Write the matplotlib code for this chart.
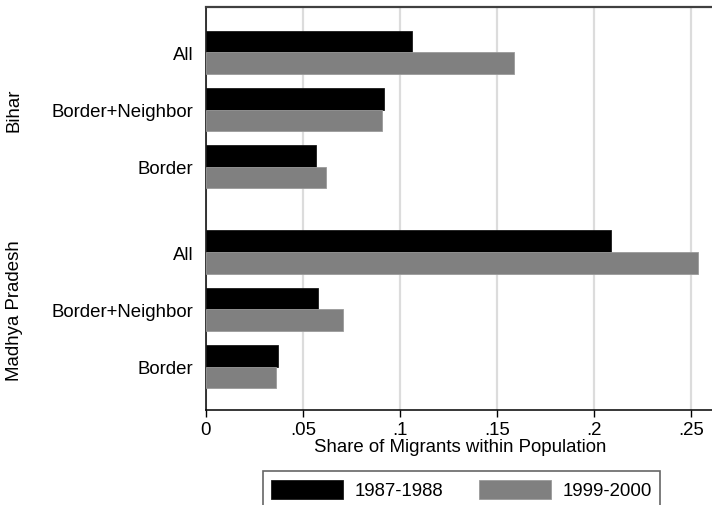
import matplotlib
matplotlib.use("Agg")
import matplotlib.pyplot as plt
import numpy as np

plt.rcParams['font.family'] = ['Liberation Sans', 'DejaVu Sans']

states = ["Bihar", "Madhya Pradesh"]
regions = ["All", "Border+Neighbor", "Border"]
share_8788 = {"Bihar": [0.1064, 0.0920, 0.0568],
              "Madhya Pradesh": [0.2085, 0.0577, 0.0371]}
share_9900 = {"Bihar": [0.1588, 0.0906, 0.0618],
              "Madhya Pradesh": [0.2535, 0.0707, 0.0362]}
series_labels = ["1987-1988", "1999-2000"]
xticks = [0, 0.05, 0.10, 0.15, 0.20, 0.25]
xticklabels = ["0", ".05", ".1", ".15", ".2", ".25"]

W, H = 712, 506
ax_left, ax_right, ax_top, ax_bottom = 205.7, 720, 7.5, 411

fig = plt.figure(figsize=(W / 100, H / 100), dpi=100)
ax = fig.add_axes([ax_left / W, 1 - ax_bottom / H,
                   (ax_right - ax_left) / W, (ax_bottom - ax_top) / H])

bar_h = 0.378
first = 0.8
group_step = 3.49
fs = 13.4

centers = []
labels = []
for g, st in enumerate(states):
    for i, reg in enumerate(regions):
        c = first + g * group_step + i
        centers.append(c)
        labels.append(reg)
        ax.barh(c - bar_h / 2, share_8788[st][i], height=bar_h,
                color="black", edgecolor="#1a1a1a", linewidth=0.6, zorder=3)
        ax.barh(c + bar_h / 2, share_9900[st][i], height=bar_h,
                color="#808080", edgecolor="#9a9a9a", linewidth=0.6, zorder=3)
    # state name, rotated, to the left of its group
    gc = first + g * group_step + 1
    ax.text((14 - ax_left) / (ax_right - ax_left), gc, st, rotation=90,
            ha="center", va="center", fontsize=fs,
            transform=ax.get_yaxis_transform())

ax.set_ylim(7.05, 0)
ax.set_xlim(0, (ax_right - ax_left) / 1942)
ax.set_yticks(centers)
ax.set_yticklabels(labels, fontsize=fs)
ax.tick_params(axis="y", length=0, pad=9)
ax.set_xticks(xticks)
ax.set_xticklabels(xticklabels, fontsize=fs)
ax.tick_params(axis="x", length=5, width=1, pad=3.2)
ax.xaxis.grid(True, color="#dcdcdc", linewidth=1.6, zorder=0)
ax.set_axisbelow(True)

ax.spines["right"].set_visible(False)
ax.spines["top"].set_color("#404040")
ax.spines["top"].set_linewidth(1.6)
ax.spines["left"].set_linewidth(1.1)
ax.spines["bottom"].set_linewidth(1.1)

ax.set_xlabel("Share of Migrants within Population", fontsize=fs)
ax.xaxis.set_label_coords((460 - ax_left) / (ax_right - ax_left),
                          -(438.8 - ax_bottom) / (ax_bottom - ax_top))

handles = [plt.Rectangle((0, 0), 1, 1, facecolor="black", edgecolor="#1a1a1a", linewidth=0.6),
           plt.Rectangle((0, 0), 1, 1, facecolor="#808080", edgecolor="#9a9a9a", linewidth=0.6)]
leg = fig.legend(handles, series_labels, loc="upper left",
                 bbox_to_anchor=(262.7 / W, 1 - 472.3 / H, (660 - 262.7) / W, 0.0),
                 mode="expand", ncol=2, fontsize=fs, frameon=True, fancybox=False,
                 edgecolor="#404040", handlelength=3.87, handleheight=1.2,
                 handletextpad=0.6, borderpad=0.45, columnspacing=2.0, borderaxespad=0)
leg.get_frame().set_linewidth(1.2)

fig.savefig("out.png", dpi=100)
